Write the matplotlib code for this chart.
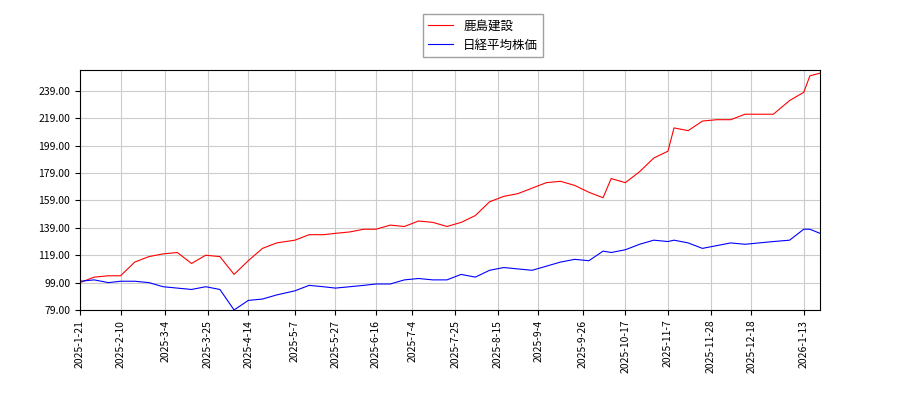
import matplotlib
matplotlib.use("Agg")
import matplotlib.pyplot as plt
import pandas as pd

plt.rcParams['font.family'] = ['Noto Sans CJK JP', 'DejaVu Sans']

dates = ["2025-01-21","2025-01-28","2025-02-04","2025-02-10","2025-02-17","2025-02-24","2025-03-03","2025-03-10",
"2025-03-17","2025-03-24","2025-03-31","2025-04-07","2025-04-14","2025-04-21","2025-04-28","2025-05-07","2025-05-14",
"2025-05-21","2025-05-27","2025-06-03","2025-06-10","2025-06-16","2025-06-23","2025-06-30","2025-07-07","2025-07-14",
"2025-07-21","2025-07-28","2025-08-04","2025-08-11","2025-08-18","2025-08-25","2025-09-01","2025-09-08","2025-09-15",
"2025-09-22","2025-09-29","2025-10-06","2025-10-10","2025-10-17","2025-10-24","2025-10-31","2025-11-07","2025-11-10",
"2025-11-17","2025-11-24","2025-12-01","2025-12-08","2025-12-15","2025-12-22","2025-12-29","2026-01-06","2026-01-13",
"2026-01-16","2026-01-21"]
kajima = [99,103,104,104,114,118,120,121,113,119,118,105,115,124,128,130,134,134,135,136,138,138,141,140,144,143,
140,143,148,158,162,164,168,172,173,170,165,161,175,172,180,190,195,212,210,217,218,218,222,222,222,232,238,250,252]
nikkei = [100,101,99,100,100,99,96,95,94,96,94,79,86,87,90,93,97,96,95,96,97,98,98,101,102,101,
101,105,103,108,110,109,108,111,114,116,115,122,121,123,127,130,129,130,128,124,126,128,127,128,129,130,138,138,135]
tick_dates = ["2025-01-21","2025-02-10","2025-03-04","2025-03-25","2025-04-14","2025-05-07","2025-05-27","2025-06-16",
"2025-07-04","2025-07-25","2025-08-15","2025-09-04","2025-09-26","2025-10-17","2025-11-07","2025-11-28","2025-12-18","2026-01-13"]
yticks = [79,99,119,139,159,179,199,219,239]

d = pd.to_datetime(dates)
fig = plt.figure(figsize=(9,4), dpi=100)
ax = fig.add_axes([80/900, 90/400, 740/900, 240/400])
ax.plot(d, kajima, color='red', lw=0.8, label='鹿島建設')
ax.plot(d, nikkei, color='blue', lw=0.8, label='日経平均株価')
ax.set_xlim(d[0], d[-1])
ax.set_ylim(79, 254.3)
ax.set_yticks(yticks)
ax.set_yticklabels([f"{v:.2f}" for v in yticks], fontsize=7.5)
td = pd.to_datetime(tick_dates)
ax.set_xticks(td)
ax.set_xticklabels([f"{t.year}-{t.month}-{t.day}" for t in td], rotation=90, fontsize=7.5)
ax.grid(True, color='#cccccc', lw=0.8)
ax.legend(loc='lower center', bbox_to_anchor=(0.545, 1.03), fontsize=9, frameon=True, fancybox=False, edgecolor='#888888')
fig.savefig("out.png", dpi=100)
